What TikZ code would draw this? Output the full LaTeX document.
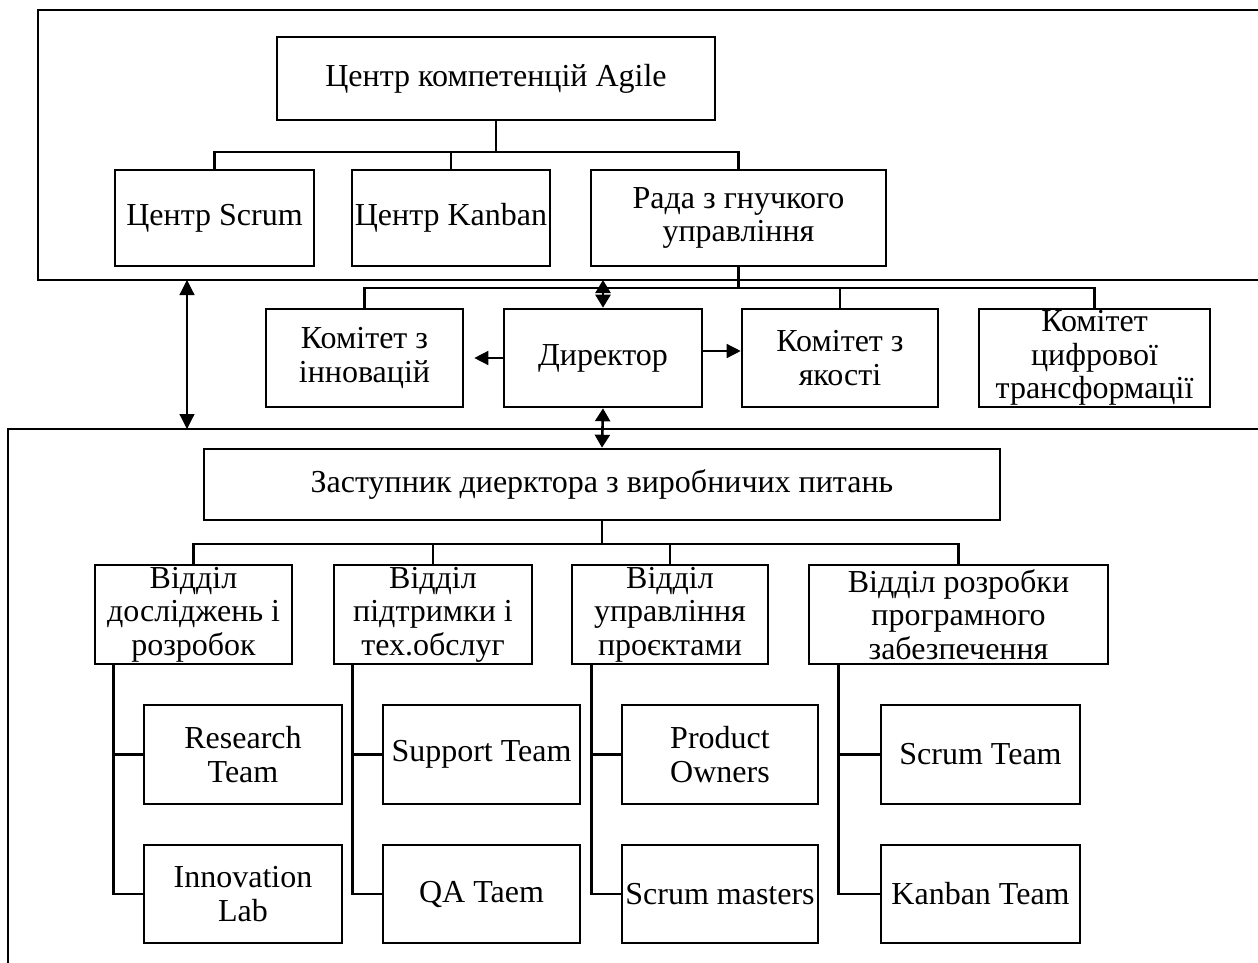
\documentclass[tikz,border=0pt]{standalone}
\usepackage{fontspec}
\setmainfont{Liberation Serif}
\usetikzlibrary{arrows.meta}
\begin{document}
\begin{tikzpicture}[x=1pt,y=-1pt,
  box/.style={draw, line width=2.6pt, inner sep=0pt, align=center,
    font=\fontsize{32}{33.5}\selectfont},
  frame/.style={line width=2.6pt},
  link/.style={line width=2.6pt},
  dual/.style={line width=2.6pt,
    {Triangle[length=13pt,width=15pt]}-{Triangle[length=13pt,width=15pt]}},
  thindual/.style={line width=1.2pt,
    {Triangle[length=15pt,width=15pt]}-{Triangle[length=15pt,width=15pt]}},
  harrow/.style={line width=1.4pt, -{Triangle[length=14pt,width=14pt]}}
]
\useasboundingbox (0,0) rectangle (1258,963);
\clip (0,0) rectangle (1258,963);

% outer frames
\draw[frame] (38,10) rectangle (1300,280);
\draw[frame] (8,429) rectangle (1300,1000);

% Agile competence centre
\node[box, minimum width=438pt, minimum height=83pt] (agile) at (496,78.5) {Центр компетенцій Agile};
\node[box, minimum width=199pt, minimum height=96pt] (scrum) at (214.5,218) {Центр Scrum};
\node[box, minimum width=198pt, minimum height=96pt] (kanban) at (451,218) {Центр Kanban};
\node[box, minimum width=295pt, minimum height=96pt] (rada) at (738.5,218) {Рада з гнучкого\\управління};

% director level
\node[box, minimum width=197pt, minimum height=98pt] (kinn) at (364.5,358) {Комітет з\\інновацій};
\node[box, minimum width=198pt, minimum height=98pt] (dir) at (603,358) {Директор};
\node[box, minimum width=196pt, minimum height=98pt] (kyak) at (840,358) {Комітет з\\якості};
\node[box, minimum width=231pt, minimum height=98pt] (kcyf) at (1094.5,358) {Комітет\\цифрової\\трансформації};

% production
\node[box, minimum width=796pt, minimum height=71pt] (zast) at (602,484.5) {Заступник диерктора з виробничих питань};
\node[box, minimum width=197pt, minimum height=99pt] (v1) at (193.5,614.5) {Відділ\\досліджень і\\розробок};
\node[box, minimum width=198pt, minimum height=99pt] (v2) at (433,614.5) {Відділ\\підтримки і\\тех.обслуг};
\node[box, minimum width=196pt, minimum height=99pt] (v3) at (670,614.5) {Відділ\\управління\\проєктами};
\node[box, minimum width=299pt, minimum height=99pt] (v4) at (958.5,614.5) {Відділ розробки\\програмного\\забезпечення};

% teams
\node[box, minimum width=198pt, minimum height=99pt] (t11) at (243,754.5) {Research\\Team};
\node[box, minimum width=198pt, minimum height=98pt] (t12) at (243,894) {Innovation\\Lab};
\node[box, minimum width=197pt, minimum height=99pt] (t21) at (481.5,754.5) {Support Team};
\node[box, minimum width=197pt, minimum height=98pt] (t22) at (481.5,894) {QA Taem};
\node[box, minimum width=196pt, minimum height=99pt] (t31) at (720,754.5) {Product\\Owners};
\node[box, minimum width=196pt, minimum height=98pt] (t32) at (720,894) {Scrum masters};
\node[box, minimum width=199pt, minimum height=99pt] (t41) at (980.5,754.5) {Scrum Team};
\node[box, minimum width=199pt, minimum height=98pt] (t42) at (980.5,894) {Kanban Team};

% bus lines
\coordinate (b1) at (0,152);
\draw[link] (agile.south) -- (agile.south |- b1);
\draw[link] (scrum.north) -- (scrum.north |- b1) -| (rada.north);
\draw[link] (kanban.north) -- (kanban.north |- b1);

\coordinate (b2) at (0,288);
\draw[link] (rada.south) -- (rada.south |- b2);
\draw[link] (kinn.north) -- (kinn.north |- b2) -| (kcyf.north);
\draw[link] (kyak.north) -- (kyak.north |- b2);

\coordinate (b3) at (0,544);
\draw[link] (zast.south) -- (zast.south |- b3);
\draw[link] (v1.north) -- (v1.north |- b3) -| (v4.north);
\draw[link] (v2.north) -- (v2.north |- b3);
\draw[link] (v3.north) -- (v3.north |- b3);

% department to team links
\draw[link] ([xshift=20pt]v1.south west) |- (t12.west);
\draw[link] ([xshift=20pt]v1.south west |- t11.west) -- (t11.west);
\draw[link] ([xshift=20pt]v2.south west) |- (t22.west);
\draw[link] ([xshift=20pt]v2.south west |- t21.west) -- (t21.west);
\draw[link] ([xshift=21pt]v3.south west) |- (t32.west);
\draw[link] ([xshift=21pt]v3.south west |- t31.west) -- (t31.west);
\draw[link] ([xshift=31pt]v4.south west) |- (t42.west);
\draw[link] ([xshift=31pt]v4.south west |- t41.west) -- (t41.west);

% arrows
\coordinate (ftop) at (603,280);
\draw[dual] (ftop) -- (dir.north);
\draw[dual] (dir.south) -- (zast.north);
\coordinate (la) at (187,280);
\coordinate (lb) at (187,429);
\draw[thindual] (la) -- (lb);
\draw[harrow, shorten >=10pt] (dir.west) -- (kinn.east);
\draw[harrow] ([yshift=7pt]dir.east) -- ([yshift=7pt]kyak.west);
\end{tikzpicture}
\end{document}
